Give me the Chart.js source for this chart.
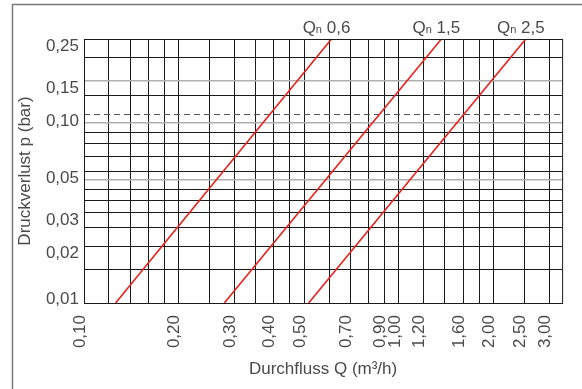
<!DOCTYPE html>
<html>
<head>
<meta charset="utf-8">
<script src="https://cdn.jsdelivr.net/npm/chart.js@4.4.0/dist/chart.umd.min.js"></script>
<style>
  html, body { margin: 0; padding: 0; background: #fff; }
  #wrap { width: 582px; height: 389px; }
</style>
</head>
<body>
<div id="wrap"><canvas id="chart"></canvas></div>
<script>
// meter curves: flow Q (m3/h) where each line meets the bottom (0,01 bar) and top (0,25 bar)
const seriesNames = ["0,6", "1,5", "2,5"];
const pressureEnds = [0.01, 0.25];
const flowAtBottom = [0.126, 0.279, 0.517];
const flowAtTop = [0.611, 1.365, 2.53];

// grid lines and labelled ticks
const xGrid = [0.10, 0.12, 0.14, 0.16, 0.18, 0.20, 0.25, 0.30, 0.35, 0.40, 0.45, 0.50,
  0.60, 0.70, 0.80, 0.90, 1.00, 1.20, 1.40, 1.60, 1.80, 2.00, 2.50, 3.00];
const xLabels = [0.10, 0.20, 0.30, 0.40, 0.50, 0.70, 0.90, 1.00, 1.20, 1.60, 2.00, 2.50, 3.00];
const yGrid = [0.01, 0.015, 0.02, 0.025, 0.03, 0.035, 0.04, 0.045, 0.05, 0.06, 0.07, 0.08,
  0.09, 0.10, 0.125, 0.15, 0.20, 0.25];
const yLabels = [0.01, 0.02, 0.03, 0.05, 0.10, 0.15, 0.25];
const yLight = [0.045, 0.09, 0.15];
const yDashed = 0.10;

const FONT = "'Liberation Sans', Arial, sans-serif";
const TEXT = "#4a4a4a";
const fmt = (v) => v.toFixed(2).replace(".", ",");

const frames = {
  id: "frames",
  beforeDraw(chart) {
    const ctx = chart.ctx;
    ctx.save();
    ctx.strokeStyle = "#7a7a7a";
    ctx.lineWidth = 1.5;
    ctx.strokeRect(12.5, 4.5, 640, 420);
    ctx.restore();
  },
  afterDraw(chart) {
    const { ctx, chartArea: a } = chart;
    const xs = chart.scales.x;
    ctx.save();
    ctx.strokeStyle = "#1a1a1a";
    ctx.lineWidth = 1;
    ctx.strokeRect(a.left + 0.5, a.top + 0.5, a.right - a.left, a.bottom - a.top);

    // Qn labels above the top end of each line
    ctx.fillStyle = TEXT;
    ctx.textBaseline = "alphabetic";
    seriesNames.forEach((name, i) => {
      const cx = xs.getPixelForValue(flowAtTop[i]) - 5;
      ctx.font = "17px " + FONT;
      const wQ = ctx.measureText("Q").width;
      const wRest = ctx.measureText(" " + name).width;
      ctx.font = "11px " + FONT;
      const wn = ctx.measureText("n").width;
      let x = cx - (wQ + wn + wRest) / 2;
      const y = a.top - 6;
      ctx.font = "17px " + FONT;
      ctx.fillText("Q", x, y);
      x += wQ;
      ctx.font = "11px " + FONT;
      ctx.fillText("n", x, y);
      x += wn;
      ctx.font = "17px " + FONT;
      ctx.fillText(" " + name, x, y);
    });
    ctx.restore();
  }
};

const datasets = seriesNames.map((name, i) => ({
  label: "Qn " + name,
  data: [
    { x: flowAtBottom[i], y: pressureEnds[0] },
    { x: flowAtTop[i], y: pressureEnds[1] }
  ],
  showLine: true,
  borderColor: "#e8211c",
  borderWidth: 1.6,
  pointRadius: 0,
  fill: false
}));

new Chart(document.getElementById("chart"), {
  type: "scatter",
  data: { datasets },
  options: {
    responsive: true,
    maintainAspectRatio: false,
    animation: false,
    events: [],
    layout: { padding: { left: 0, top: 39, right: 19, bottom: 0 } },
    plugins: { legend: { display: false }, tooltip: { enabled: false } },
    scales: {
      x: {
        type: "logarithmic",
        min: 0.1,
        max: 3.3,
        afterBuildTicks: (s) => { s.ticks = xGrid.map((v) => ({ value: v })); },
        afterFit: (s) => { s.height = 86; },
        grid: { color: "#1a1a1a", lineWidth: 1, drawTicks: false },
        border: { display: false },
        ticks: {
          autoSkip: false,
          minRotation: 90,
          maxRotation: 90,
          padding: 12,
          labelOffset: -4,
          color: TEXT,
          font: { family: FONT, size: 17 },
          callback: (v) => (xLabels.includes(v) ? fmt(v) : "")
        },
        title: {
          display: true,
          text: "Durchfluss Q (m³/h)",
          color: TEXT,
          font: { family: FONT, size: 17 },
          padding: { top: 0, bottom: 9 }
        }
      },
      y: {
        type: "logarithmic",
        min: 0.01,
        max: 0.25,
        afterBuildTicks: (s) => { s.ticks = yGrid.map((v) => ({ value: v })); },
        afterFit: (s) => { s.width = 84; },
        grid: {
          drawTicks: false,
          color: (c) => {
            const v = c.tick && c.tick.value;
            if (v === yDashed) return "#555";
            return yLight.includes(v) ? "#b0b0b0" : "#1a1a1a";
          },
          lineWidth: (c) => (c.tick && yLight.includes(c.tick.value) ? 1.5 : 1)
        },
        border: {
          display: false,
          dash: (c) => (c.tick && c.tick.value === yDashed ? [6, 4] : [])
        },
        ticks: {
          autoSkip: false,
          padding: 5,
          labelOffset: 7,
          color: TEXT,
          font: { family: FONT, size: 17 },
          callback: (v) => {
            if (!yLabels.includes(v)) return "";
            return v === yLabels[0] ? [fmt(v), ""] : fmt(v);
          }
        },
        title: {
          display: true,
          text: "Druckverlust p (bar)",
          color: TEXT,
          font: { family: FONT, size: 17 },
          padding: { top: 15, bottom: 0 }
        }
      }
    }
  },
  plugins: [frames]
});
</script>
</body>
</html>
